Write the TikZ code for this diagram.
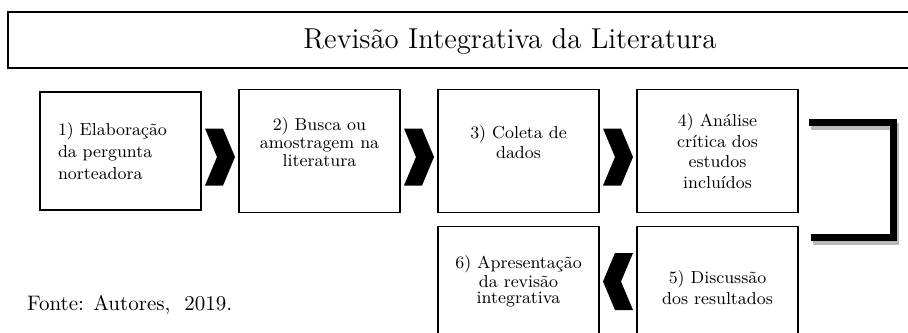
\documentclass[tikz,border=0pt]{standalone}
\usetikzlibrary{calc}
\begin{document}
\begin{tikzpicture}[x=0.5pt, y=-0.5pt, node distance=99.5pt,
                    stage node/.style={rectangle, draw, line width=0.8pt,
                      minimum width=80.5pt, minimum height=61.5pt, align=center,
                      font=\fontsize{8.7}{10}\selectfont},
                    chev/.pic={\fill (-15,-28.5) -- (3,-28.5) -- (15,0) -- (3,28.5)
                      -- (-15,28.5) -- (-3,0) -- cycle;}]
    \useasboundingbox (0,0) rectangle (908,332);
    \clip (0,0) rectangle (908,332);

    \draw[line width=1pt] (8,12) rectangle (940,68);
    \node[font=\fontsize{14.4}{17}\selectfont] (title) at (510,41)
        {Revisão Integrativa da Literatura};

    \node[stage node, minimum height=59pt, text width=62.5pt, inner xsep=9pt,
          align=left, font=\fontsize{8.7}{11}\selectfont] (1) at (120.5,151)
        {1) Elaboração\\da pergunta\\norteadora};
    \node[stage node, font=\fontsize{8.7}{9}\selectfont, text depth=9.5pt]
        (2) [right of=1]                             {2) Busca ou\\amostragem na\\literatura};
    \node[stage node, text depth=9pt] (3) [right of=2] {3) Coleta de\\dados};
    \node[stage node, font=\fontsize{8.7}{10.4}\selectfont] (4) [right of=3]
        {4) Análise\\crítica dos\\estudos\\incluídos};
    \node[stage node, font=\fontsize{8.7}{10.5}\selectfont] (5)
        [below of=4, node distance=68.5pt]           {5) Discussão\\dos resultados};
    \node[stage node, font=\fontsize{8.7}{8}\selectfont, text depth=8.7pt]
        (6) [left of=5]                              {6) Apresentação\\da revisão\\integrativa};

    \foreach \a/\b in {1/2, 2/3, 3/4}
        \pic at ($(\a.east)!0.5!(\b.west)+(0,6)$) {chev};
    \pic[xscale=-1] at ($(6.east)!0.5!(5.west)+(0,-6.5)$) {chev};

    % bracket from row 1 down to row 2
    \draw[gray!55, line width=3.5pt, shift={(1.5,3.5)}]
        (809,122.5) -- (893.5,122.5) -- (893.5,237.5) -- (811,237.5);
    \draw[line width=3.5pt]
        (809,122.5) -- (893.5,122.5) -- (893.5,237.5) -- (811,237.5);

    \node[anchor=west, font=\fontsize{10.5}{12}\selectfont] (source) at (20,305)
        {Fonte: Autores,\ \ 2019.};
\end{tikzpicture}
\end{document}
